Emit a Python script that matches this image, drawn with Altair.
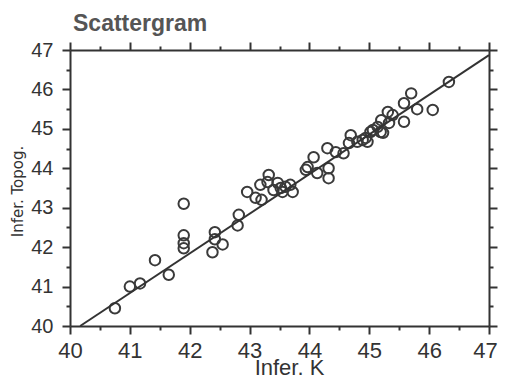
import altair as alt
import pandas as pd

# Inferred K (x) vs inferred Topog. (y)
k_vals = [40.75, 41.00, 41.17, 41.42, 41.65, 41.90, 41.90, 41.90, 41.90, 42.42,
          42.42, 42.38, 42.55, 42.82, 42.80, 42.96, 43.10, 43.20, 43.18, 43.32,
          43.30, 43.47, 43.40, 43.52, 43.60, 43.68, 43.72, 43.55, 43.97, 43.94,
          44.07, 44.13, 44.30, 44.32, 44.32, 44.44, 44.57, 44.69, 44.66, 44.80,
          44.89, 44.97, 45.02, 45.19, 45.14, 45.33, 45.58, 46.33, 45.70, 45.58,
          45.80, 46.06, 45.31, 45.39, 45.20, 45.06, 45.23, 44.94]
topog_vals = [40.45, 41.00, 41.08, 41.67, 41.30, 43.10, 42.30, 42.10, 41.97, 42.38,
              42.20, 41.87, 42.07, 42.82, 42.55, 43.40, 43.25, 43.20, 43.58, 43.83,
              43.65, 43.63, 43.45, 43.50, 43.53, 43.58, 43.40, 43.40, 44.03, 43.96,
              44.28, 43.88, 44.51, 44.00, 43.75, 44.41, 44.38, 44.84, 44.64, 44.67,
              44.72, 44.67, 44.92, 44.92, 45.05, 45.15, 45.18, 46.19, 45.90, 45.65,
              45.50, 45.48, 45.43, 45.35, 45.22, 44.97, 44.90, 44.77]

# fitted line end points
fit_x = [40.17, 47.0]
fit_y = [40.0, 46.87]

major_ticks = [40, 41, 42, 43, 44, 45, 46, 47]
minor_ticks = [40.5, 41.5, 42.5, 43.5, 44.5, 45.5, 46.5]

pts = pd.DataFrame({"k": k_vals, "t": topog_vals})
fit = pd.DataFrame({"k": fit_x, "t": fit_y})

INK = "#333333"
FONT = "Liberation Sans"
xs = alt.Scale(domain=[40, 47], nice=False, zero=False)
ys = alt.Scale(domain=[40, 47], nice=False, zero=False)

common = dict(grid=False, domainColor=INK, tickColor=INK, labelColor=INK,
              titleColor=INK, domainWidth=2, tickWidth=2,
              labelFont=FONT, titleFont=FONT, labelOverlap=False)

points = alt.Chart(pts).mark_point(
    shape="circle", filled=False, size=110, strokeWidth=2,
    color="#3a3a3a", opacity=1
).encode(
    x=alt.X("k:Q", scale=xs, axis=alt.Axis(
        orient="bottom", values=major_ticks, format="d", tickSize=8,
        labelFontSize=22, labelPadding=6, labelFlush=False,
        labelOffset={"condition": {"test": "datum.value == 47", "value": -4},
                     "value": 0},
        title="Infer. K", titleFontSize=22, titleFontWeight="normal",
        titleX=219, titleY=48, titleBaseline="alphabetic", **common)),
    y=alt.Y("t:Q", scale=ys, axis=alt.Axis(
        orient="left", values=major_ticks, format="d", tickSize=8,
        labelFontSize=20, labelPadding=9, labelFlush=False,
        title="Infer. Topog.", titleFontSize=15, titleFontWeight="normal",
        titleX=-48, titleY=141, titleBaseline="alphabetic", titleAngle=270,
        **{**common, "titleFont": "DejaVu Sans"})),
)

line = alt.Chart(fit).mark_line(color=INK, strokeWidth=2).encode(
    x=alt.X("k:Q", scale=xs, axis=alt.Axis(
        orient="top", values=major_ticks, labels=False, tickSize=8,
        title=None, **common)),
    y=alt.Y("t:Q", scale=ys, axis=alt.Axis(
        orient="right", values=major_ticks, labels=False, tickSize=8,
        title=None, **common)),
)

minor_a = alt.Chart(pts).mark_point(opacity=0).encode(
    x=alt.X("k:Q", scale=xs, axis=alt.Axis(
        orient="bottom", values=minor_ticks, labels=False, tickSize=4,
        domain=False, title=None, **common)),
    y=alt.Y("t:Q", scale=ys, axis=alt.Axis(
        orient="left", values=minor_ticks, labels=False, tickSize=4,
        domain=False, title=None, **common)),
)

minor_b = alt.Chart(pts).mark_point(opacity=0).encode(
    x=alt.X("k:Q", scale=xs, axis=alt.Axis(
        orient="top", values=minor_ticks, labels=False, tickSize=4,
        domain=False, title=None, **common)),
    y=alt.Y("t:Q", scale=ys, axis=alt.Axis(
        orient="right", values=minor_ticks, labels=False, tickSize=4,
        domain=False, title=None, **common)),
)

chart = alt.layer(points, line, minor_a, minor_b).resolve_axis(
    x="independent", y="independent"
).properties(
    width=419, height=276,
    title=alt.TitleParams("Scattergram", anchor="start", frame="group",
                          fontSize=23, font=FONT, fontWeight="bold",
                          color="#555555", offset=4, dx=3),
    padding={"left": 62, "top": 42, "right": 9, "bottom": 53},
    autosize=alt.AutoSizeParams(type="none"),
).configure_view(stroke="transparent")

chart.save("out.html", embed_options={"renderer": "svg", "actions": False})
